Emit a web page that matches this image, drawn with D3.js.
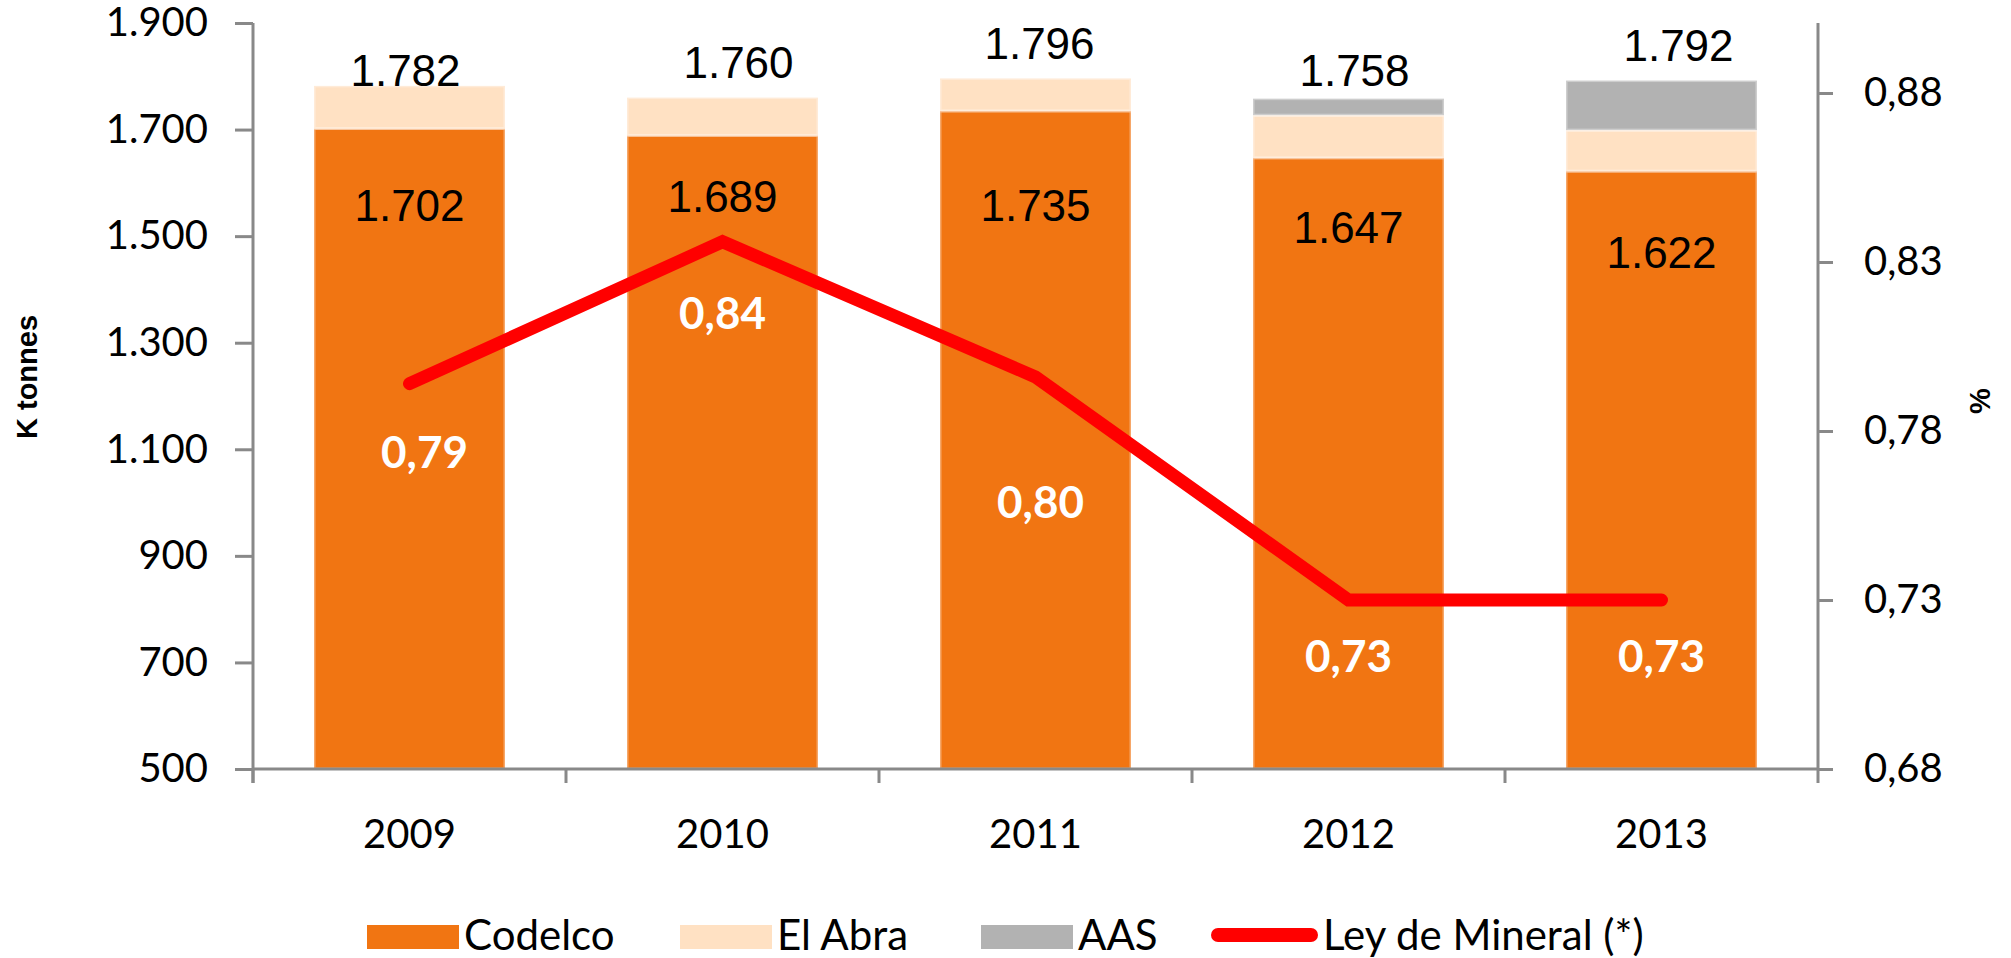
<!DOCTYPE html>
<html lang="es">
<head>
    <meta charset="UTF-8">
    <title>Producción de cobre y ley de mineral</title>
    <style>
        body { margin: 0; background: #fff; }
        .axis path, .axis line { stroke: #898989; stroke-width: 3; }
        .tick text { font-family: Lato, "Open Sans", sans-serif; font-size: 40px; fill: #000; }
        .barlabel { font-family: "Liberation Sans", Arial, sans-serif; font-size: 44px; fill: #000; text-anchor: middle; }
        .linelabel { font-family: Lato, "Open Sans", sans-serif; font-size: 44px; font-weight: bold; fill: #fff; text-anchor: middle; }
        .title { font-family: "Liberation Sans", Arial, sans-serif; font-size: 29px; font-weight: bold; text-anchor: middle; }
        .legend text { font-family: Lato, "Open Sans", sans-serif; font-size: 42px; fill: #000; }
    </style>
</head>
<body>
    <script src="https://cdn.jsdelivr.net/npm/d3@7"></script>
    <script>

        // data
        var years = ["2009", "2010", "2011", "2012", "2013"];
        var codelco = [1702, 1689, 1735, 1647, 1622];
        var elAbra = [80, 71, 61, 80, 77];
        var aas = [0, 0, 0, 31, 93];
        var totals = [1782, 1760, 1796, 1758, 1792];
        var leyMineral = [0.794, 0.836, 0.796, 0.73, 0.73];
        var leftTicks = [500, 700, 900, 1100, 1300, 1500, 1700, 1900];
        var rightTicks = [0.68, 0.73, 0.78, 0.83, 0.88];
        var seriesNames = ["Codelco", "El Abra", "AAS"];
        var lineName = "Ley de Mineral (*)";

        // hand placed labels in the original
        var totalNudgeX = [-4, 16, 4, 6, 17];
        var totalNudgeY = [0, -20, -19, -13, -20];
        var innerDy = [92, 77, 110, 85, 97];
        var lineLabelDx = [15, 0, 5, 0, 0];
        var lineLabelDy = [84, 87, 141, 72, 72];
        var legendX = [367, 680, 981, 1211];

        var width = 2011,
            height = 958;

        var plotLeft = 253, plotRight = 1818, plotTop = 23, plotBottom = 769;

        var colors = ["#F17512", "#FFE1C3", "#B2B2B2"];

        var locale = d3.formatLocale({decimal: ",", thousands: ".", grouping: [3], currency: ["", ""]});
        var fmtK = locale.format(",d");
        var fmtPct = locale.format(".2f");

        var x = d3.scaleBand()
            .domain(years)
            .range([plotLeft, plotRight])
            .paddingInner(0.39)
            .paddingOuter(0.195);

        var yL = d3.scaleLinear()
            .domain([500, 1900])
            .range([plotBottom, plotTop]);

        var yR = d3.scaleLinear()
            .domain([0.68, 0.88])
            .range([plotBottom, 93]);

        var svg = d3.select("body").append("svg")
            .attr("width", width)
            .attr("height", height);

        var rows = years.map(function(y, i) {
            return {year: y, "Codelco": codelco[i], "El Abra": elAbra[i], "AAS": aas[i]};
        });

        var stack = d3.stack().keys(seriesNames)(rows);
        var yMin = yL.domain()[0];

        svg.selectAll("g.series")
            .data(stack)
            .enter().append("g")
            .attr("class", "series")
            .attr("fill", function(d, i) { return colors[i]; })
            .selectAll("rect")
            .data(function(d) { return d.filter(function(p) { return p[1] > p[0]; }); })
            .enter().append("rect")
            .attr("x", function(d) { return x(d.data.year); })
            .attr("y", function(d) { return yL(d[1]); })
            .attr("width", x.bandwidth())
            .attr("height", function(d) { return yL(Math.max(d[0], yMin)) - yL(d[1]); })
            .attr("stroke", "rgba(255,255,255,0.35)")
            .attr("stroke-width", 3);

        // axes
        var gL = svg.append("g")
            .attr("class", "axis")
            .attr("transform", "translate(" + plotLeft + ",0)")
            .call(d3.axisLeft(yL).tickValues(leftTicks).tickSize(18).tickPadding(27).tickFormat(fmtK));
        gL.select(".domain").remove();

        var gR = svg.append("g")
            .attr("class", "axis")
            .attr("transform", "translate(" + plotRight + ",0)")
            .call(d3.axisRight(yR).tickValues(rightTicks).tickSize(15).tickPadding(31).tickFormat(fmtPct));
        gR.select(".domain").remove();

        var gX = svg.append("g")
            .attr("class", "axis")
            .attr("transform", "translate(0," + plotBottom + ")")
            .call(d3.axisBottom(x).tickSize(0).tickPadding(51));
        gX.select(".domain").remove();

        var frame = svg.append("g").attr("class", "axis");
        frame.append("line")
            .attr("x1", plotLeft).attr("x2", plotRight)
            .attr("y1", plotBottom).attr("y2", plotBottom);
        frame.append("line")
            .attr("x1", plotLeft).attr("x2", plotLeft)
            .attr("y1", plotTop).attr("y2", plotBottom + 14);
        frame.append("line")
            .attr("x1", plotRight).attr("x2", plotRight)
            .attr("y1", plotTop).attr("y2", plotBottom + 14);

        var bounds = years.map(function(y) { return x(y) - x.step() * x.paddingInner() / 2; });
        frame.selectAll("line.sep")
            .data(bounds)
            .enter().append("line")
            .attr("class", "sep")
            .attr("x1", function(d) { return d; }).attr("x2", function(d) { return d; })
            .attr("y1", plotBottom).attr("y2", plotBottom + 14);

        // line series
        var line = d3.line()
            .x(function(d, i) { return x(years[i]) + x.bandwidth() / 2; })
            .y(function(d) { return yR(d); });

        svg.append("path")
            .datum(leyMineral)
            .attr("d", line)
            .attr("fill", "none")
            .attr("stroke", "#FF0000")
            .attr("stroke-width", 13)
            .attr("stroke-linecap", "round");

        // labels
        svg.selectAll("text.total")
            .data(totals)
            .enter().append("text")
            .attr("class", "barlabel total")
            .attr("x", function(d, i) { return x(years[i]) + x.bandwidth() / 2 + totalNudgeX[i]; })
            .attr("y", function(d, i) { return yL(d) + totalNudgeY[i]; })
            .text(fmtK);

        svg.selectAll("text.inner")
            .data(codelco)
            .enter().append("text")
            .attr("class", "barlabel inner")
            .attr("x", function(d, i) { return x(years[i]) + x.bandwidth() / 2; })
            .attr("y", function(d, i) { return yL(d) + innerDy[i]; })
            .text(fmtK);

        svg.selectAll("text.linelabel")
            .data(leyMineral)
            .enter().append("text")
            .attr("class", "linelabel")
            .attr("x", function(d, i) { return x(years[i]) + x.bandwidth() / 2 + lineLabelDx[i]; })
            .attr("y", function(d, i) { return yR(d) + lineLabelDy[i]; })
            .text(fmtPct);

        // axis titles
        svg.append("text")
            .attr("class", "title")
            .attr("transform", "translate(37,377) rotate(-90)")
            .text("K tonnes");

        svg.append("text")
            .attr("class", "title")
            .attr("transform", "translate(1990,401) rotate(-90)")
            .text("%");

        // legend
        var legend = svg.append("g").attr("class", "legend");
        seriesNames.concat([lineName]).forEach(function(name, i) {
            var item = legend.append("g").attr("transform", "translate(" + legendX[i] + ",0)");
            var sw;
            if (i < 3) {
                item.append("rect")
                    .attr("x", 0).attr("y", 925)
                    .attr("width", 92).attr("height", 24)
                    .attr("fill", colors[i]);
                sw = 92;
            } else {
                item.append("line")
                    .attr("x1", 7).attr("x2", 100)
                    .attr("y1", 935).attr("y2", 935)
                    .attr("stroke", "#FF0000")
                    .attr("stroke-width", 14)
                    .attr("stroke-linecap", "round");
                sw = 107;
            }
            item.append("text")
                .attr("x", sw + 5)
                .attr("y", 950)
                .text(name);
        });

    </script>
</body>
</html>
